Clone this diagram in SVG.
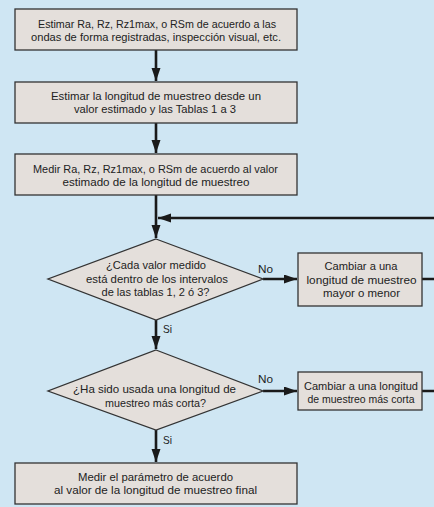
<svg xmlns="http://www.w3.org/2000/svg" width="434" height="507" viewBox="0 0 434 507">
<defs>
<style>
.box{fill:#e4dfdb;stroke:#333;stroke-width:1.3}
.t{font-family:"Liberation Sans",Arial,sans-serif;font-size:11.5px;fill:#222;text-anchor:middle}
.s{font-size:11px}
.lb{font-family:"Liberation Sans",Arial,sans-serif;font-size:11.5px;fill:#222}
.c{fill:none;stroke:#1a1a1a;stroke-width:2.6}
</style>
<marker id="ah" markerUnits="userSpaceOnUse" markerWidth="14" markerHeight="10" refX="13" refY="4.5" orient="auto">
<path d="M0,0 L13,4.5 L0,9 z" fill="#1a1a1a"/>
</marker>
</defs>
<rect x="0" y="0" width="434" height="507" fill="#cfe6f3"/>
<g id="connectors">
<path class="c" d="M156,50 V81" marker-end="url(#ah)"/>
<path class="c" d="M156,123 V153" marker-end="url(#ah)"/>
<path class="c" d="M156,195 V238" marker-end="url(#ah)"/>
<path class="c" d="M422,279 H440 V218 H158" marker-end="url(#ah)"/>
<path class="c" d="M263,279 H297" marker-end="url(#ah)"/>
<path class="c" d="M156,320 V349" marker-end="url(#ah)"/>
<path class="c" d="M263,391 H297" marker-end="url(#ah)"/>
<path class="c" d="M422,391 H440 V279"/>
<path class="c" d="M156,430 V462" marker-end="url(#ah)"/>
<text class="lb" x="258" y="273" textLength="15" lengthAdjust="spacingAndGlyphs">No</text>
<text class="lb" x="163" y="333" textLength="9" lengthAdjust="spacingAndGlyphs">Si</text>
<text class="lb" x="258" y="383" textLength="15" lengthAdjust="spacingAndGlyphs">No</text>
<text class="lb" x="163" y="444" textLength="9" lengthAdjust="spacingAndGlyphs">Si</text>
</g>
<g id="n1">
<rect class="box" x="15" y="9" width="282" height="41"/>
<text class="t s" x="157" y="28" textLength="238" lengthAdjust="spacingAndGlyphs">Estimar Ra, Rz, Rz1max, o RSm de acuerdo a las</text>
<text class="t s" x="156" y="40.5" textLength="250" lengthAdjust="spacingAndGlyphs">ondas de forma registradas, inspección visual, etc.</text>
</g>
<g id="n2">
<rect class="box" x="15" y="82" width="282" height="41"/>
<text class="t" x="156" y="99.5" textLength="210" lengthAdjust="spacingAndGlyphs">Estimar la longitud de muestreo desde un</text>
<text class="t" x="155" y="113" textLength="162" lengthAdjust="spacingAndGlyphs">valor estimado y las Tablas 1 a 3</text>
</g>
<g id="n3">
<rect class="box" x="15" y="154" width="282" height="41"/>
<text class="t s" x="155.5" y="173" textLength="245" lengthAdjust="spacingAndGlyphs">Medir Ra, Rz, Rz1max, o RSm de acuerdo al valor</text>
<text class="t s" x="156" y="185.5" textLength="187" lengthAdjust="spacingAndGlyphs">estimado de la longitud de muestreo</text>
</g>
<g id="d1">
<polygon class="box" points="156,239 263,279 156,320 48,279"/>
<text class="t" x="156" y="269" textLength="100" lengthAdjust="spacingAndGlyphs">¿Cada valor medido</text>
<text class="t" x="157" y="282.5" textLength="142" lengthAdjust="spacingAndGlyphs">está dentro de los intervalos</text>
<text class="t" x="155.5" y="296" textLength="108" lengthAdjust="spacingAndGlyphs">de las tablas 1, 2 ó 3?</text>
</g>
<g id="r1">
<rect class="box" x="298" y="253" width="124" height="53"/>
<text class="t" x="361" y="270" textLength="73" lengthAdjust="spacingAndGlyphs">Cambiar a una</text>
<text class="t" x="361.5" y="283.5" textLength="110" lengthAdjust="spacingAndGlyphs">longitud de muestreo</text>
<text class="t" x="361.5" y="297" textLength="77" lengthAdjust="spacingAndGlyphs">mayor o menor</text>
</g>
<g id="d2">
<polygon class="box" points="156,350 263,391 156,430 48,391"/>
<text class="t" x="154.5" y="393" textLength="163" lengthAdjust="spacingAndGlyphs">¿Ha sido usada una longitud de</text>
<text class="t" x="155.5" y="406.5" textLength="101" lengthAdjust="spacingAndGlyphs">muestreo más corta?</text>
</g>
<g id="r2">
<rect class="box" x="298" y="372" width="124" height="38"/>
<text class="t" x="361" y="390" textLength="114" lengthAdjust="spacingAndGlyphs">Cambiar a una longitud</text>
<text class="t" x="361" y="403" textLength="107" lengthAdjust="spacingAndGlyphs">de muestreo más corta</text>
</g>
<g id="n4">
<rect class="box" x="15" y="463" width="282" height="41"/>
<text class="t" x="155.5" y="480.5" textLength="155" lengthAdjust="spacingAndGlyphs">Medir el parámetro de acuerdo</text>
<text class="t" x="155.5" y="494" textLength="203" lengthAdjust="spacingAndGlyphs">al valor de la longitud de muestreo final</text>
</g>
</svg>
